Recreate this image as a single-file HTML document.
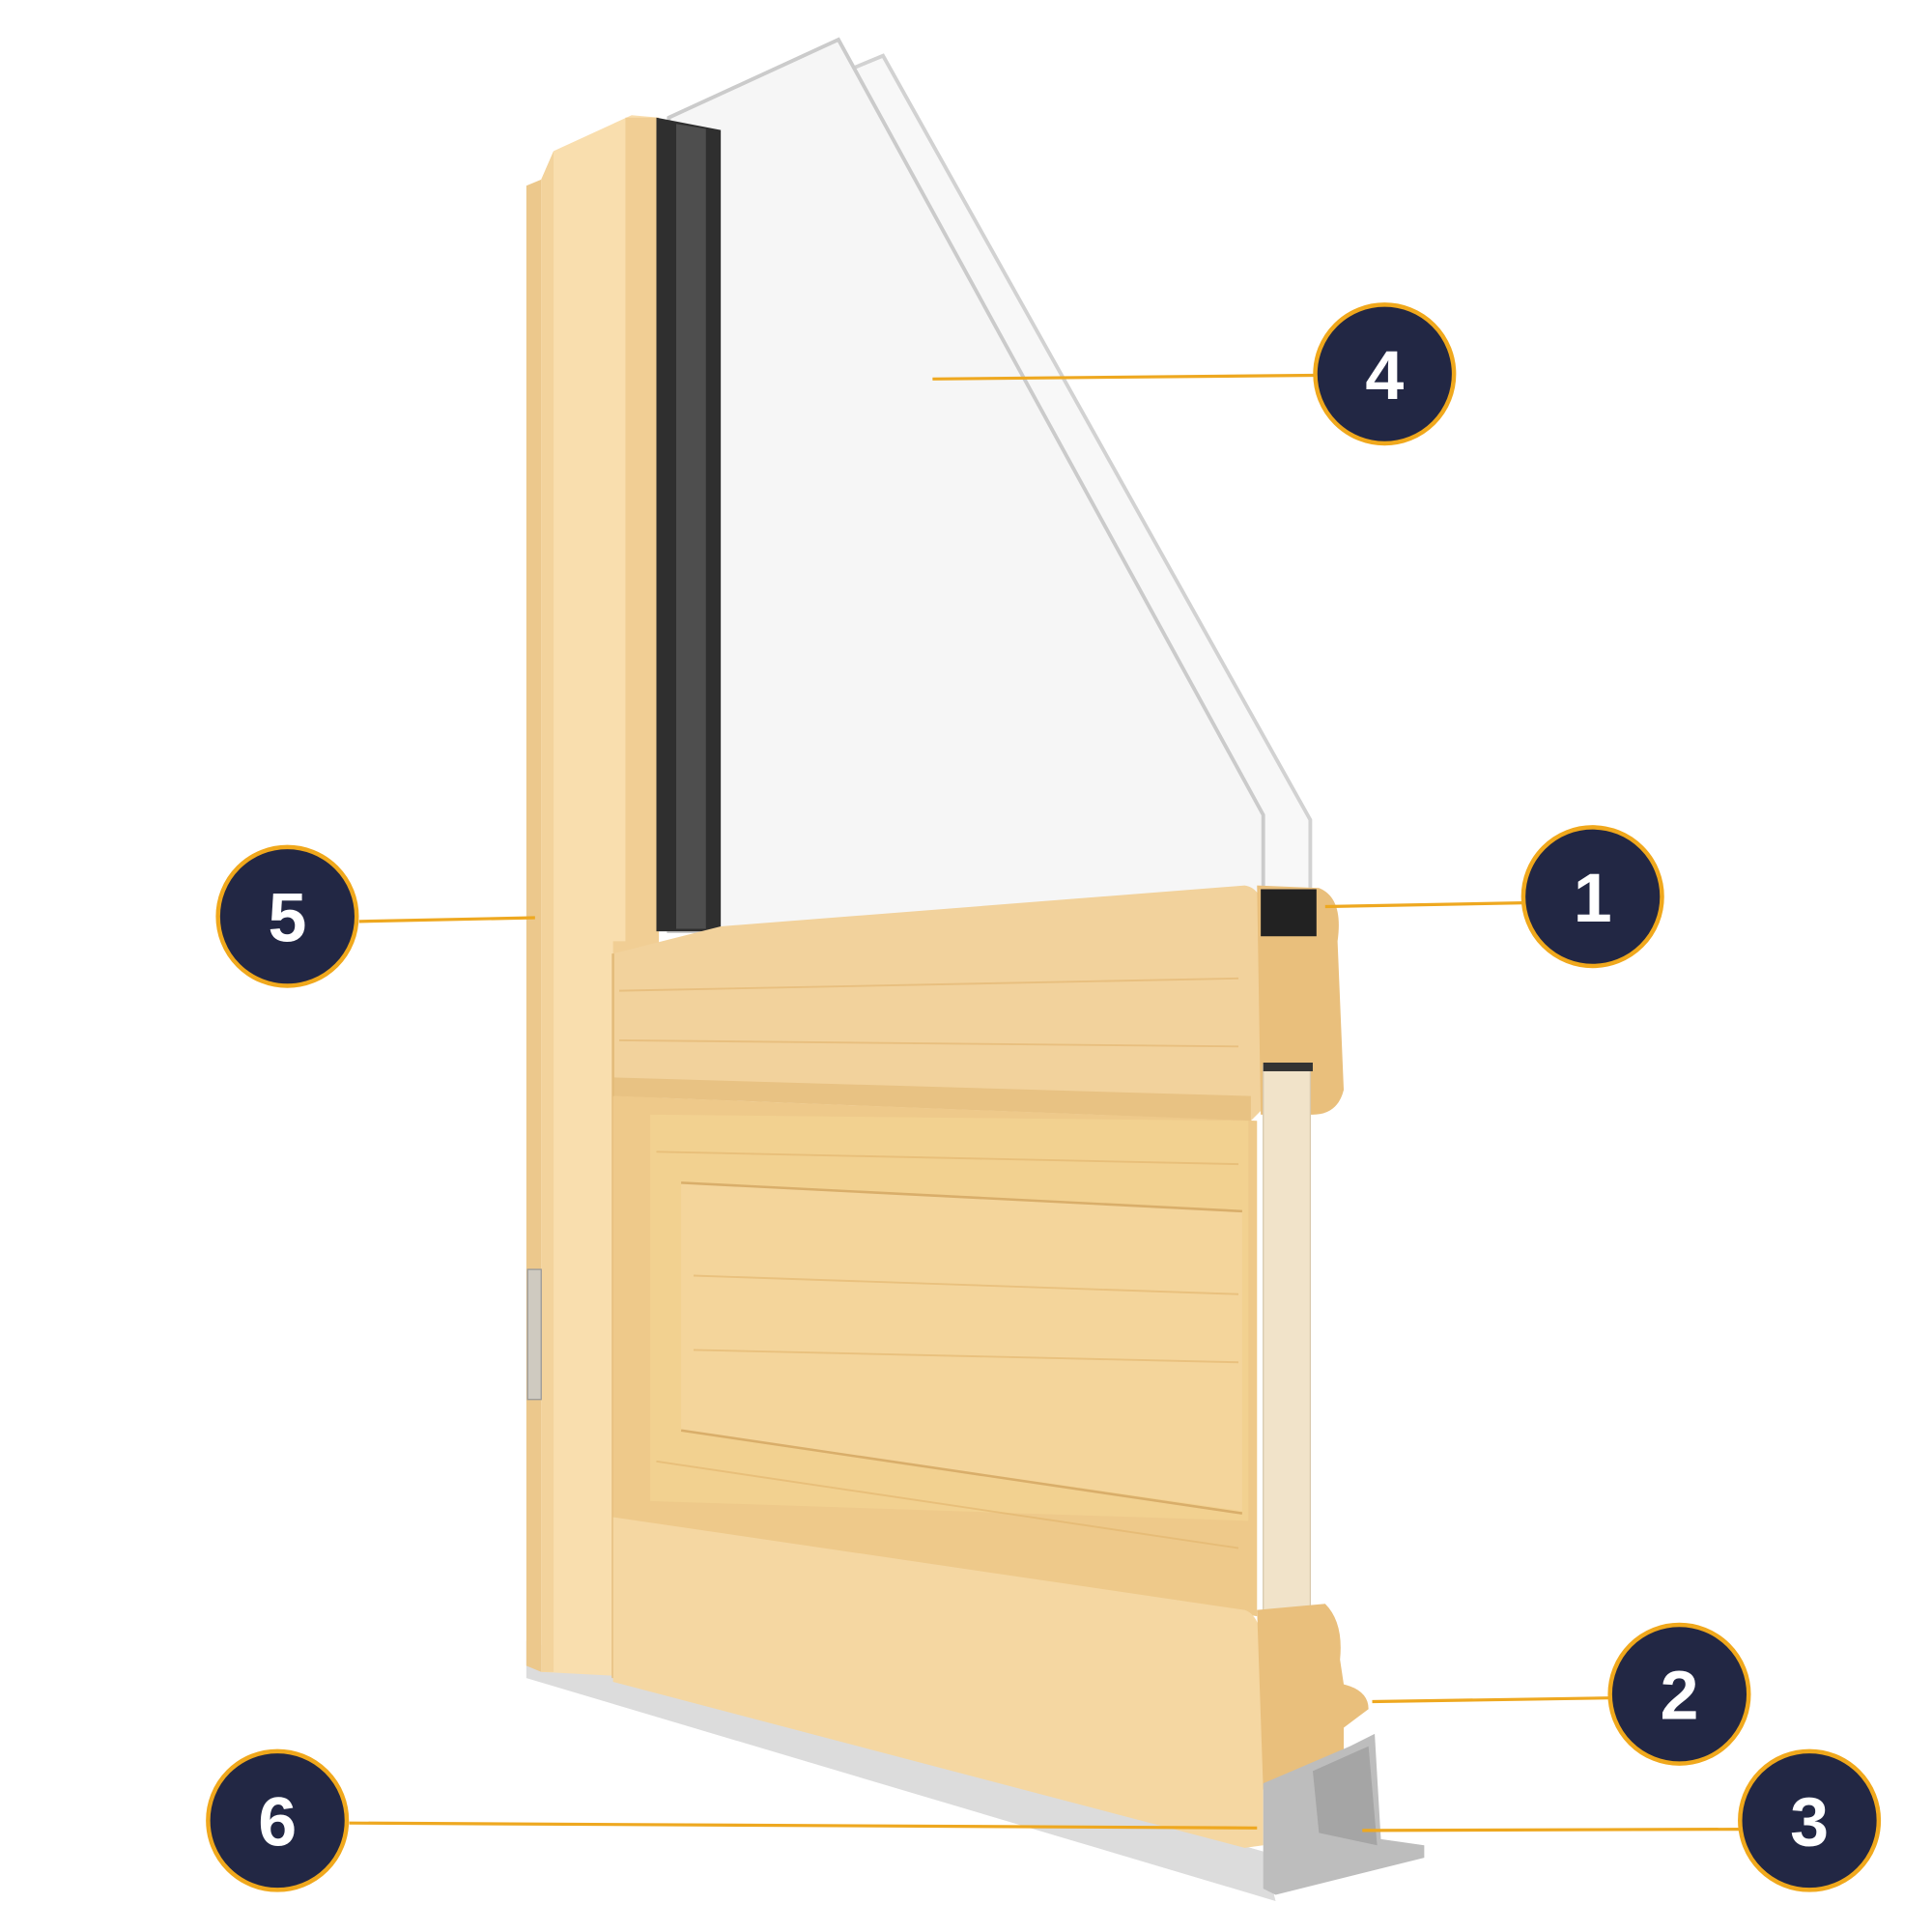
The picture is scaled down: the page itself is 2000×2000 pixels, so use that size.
<!DOCTYPE html>
<html><head><meta charset="utf-8"><style>
html,body{margin:0;padding:0;background:#fff;}
svg{display:block;}
text{font-family:"Liberation Sans",sans-serif;font-weight:bold;fill:#fff;}
</style></head><body>
<svg width="2000" height="2000" viewBox="0 0 1560 1560" xmlns="http://www.w3.org/2000/svg">
<polygon points="425,1325 1020,1495 1030,1535 425,1355" fill="#dcdcdc"/>
<polygon points="580,100 713,45 1058,662 1058,722 580,752" fill="#f8f8f8" stroke="#d2d2d2" stroke-width="3"/>
<polygon points="540,95 677,32 1020,658 1020,722 580,752 540,752" fill="#f6f6f6" stroke="#cbcbcb" stroke-width="3"/>
<polygon points="425,150 437,145 437,1350 425,1345" fill="#ecc88c"/>
<polygon points="437,145 447,122 510,93 532,95 532,1355 437,1350" fill="#f9deae"/>
<polygon points="505,95 532,95 532,1355 495,1355 495,760 505,760" fill="#f1ce94"/>
<polygon points="437,145 447,122 447,1350 437,1350" fill="#f3d39c"/>
<polygon points="530,95 582,105 582,752 530,752" fill="#2f2f2f"/>
<polygon points="546,100 570,104 570,750 546,750" fill="#4e4e4e"/>
<path d="M495,770 L582,748 L1005,715 Q1025,718 1020,760 L1020,895 L1010,905 L495,885 Z" fill="#f2d29c"/>
<path d="M495,870 L1010,885 L1010,905 L495,885 Z" fill="#e8c283"/>
<line x1="495" y1="770" x2="495" y2="1355" stroke="#e3bb7a" stroke-width="2"/>
<polygon points="495,885 1015,905 1015,1305 495,1225" fill="#eec98a"/>
<polygon points="525,900 1008,905 1008,1228 525,1212" fill="#f2d190"/>
<polygon points="550,955 1003,978 1003,1220 550,1155" fill="#f4d59b"/>
<line x1="550" y1="955" x2="1003" y2="978" stroke="#d9ae6a" stroke-width="2"/>
<line x1="550" y1="1155" x2="1003" y2="1222" stroke="#d9ae6a" stroke-width="2"/>
<g stroke="#e2b46c" stroke-width="1.5" opacity="0.6">
<line x1="530" y1="930" x2="1000" y2="940"/><line x1="560" y1="1030" x2="1000" y2="1045"/>
<line x1="560" y1="1090" x2="1000" y2="1100"/><line x1="530" y1="1180" x2="1000" y2="1250"/>
<line x1="500" y1="800" x2="1000" y2="790"/><line x1="500" y1="840" x2="1000" y2="845"/>
</g>
<path d="M495,1225 L1005,1300 Q1020,1305 1020,1340 L1020,1490 L1005,1492 L495,1358 Z" fill="#f5d7a2"/>
<path d="M1015,715 L1065,717 Q1085,725 1080,760 L1085,880 Q1080,900 1060,900 L1018,900 Z" fill="#e9bf7c"/>
<rect x="1020" y="860" width="38" height="475" fill="#f1e3c9" stroke="#d9c9ad"/>
<rect x="1020" y="858" width="40" height="7" fill="#333"/>
<rect x="1020" y="1330" width="40" height="7" fill="#333"/>
<rect x="1018" y="718" width="45" height="38" fill="#222"/>
<path d="M1015,1300 L1070,1295 Q1085,1310 1082,1340 L1085,1360 Q1105,1365 1105,1380 L1085,1395 L1085,1440 L1020,1445 Z" fill="#e9bf7c"/>
<polygon points="1020,1440 1090,1410 1110,1400 1115,1485 1150,1490 1150,1500 1110,1510 1030,1530 1020,1525" fill="#bdbdbd"/>
<polygon points="1060,1430 1105,1410 1112,1490 1065,1480" fill="#a5a5a5"/>
<rect x="426" y="1025" width="11" height="105" fill="#cfcac0" stroke="#999" stroke-width="1"/>
<g stroke="#eea820" stroke-width="2.5" fill="none">
<line x1="753" y1="306" x2="1062" y2="303"/>
<line x1="1070" y1="732" x2="1230" y2="729"/>
<line x1="290" y1="744" x2="432" y2="741"/>
<line x1="1108" y1="1374" x2="1300" y2="1371"/>
<line x1="1100" y1="1478" x2="1405" y2="1477"/>
<line x1="282" y1="1472" x2="1015" y2="1476"/>
</g>
<g fill="#222744" stroke="#f0a81c" stroke-width="3.5">
<circle cx="1118" cy="302" r="56"/>
<circle cx="1286" cy="724" r="56"/>
<circle cx="232" cy="740" r="56"/>
<circle cx="1356" cy="1368" r="56"/>
<circle cx="1461" cy="1470" r="56"/>
<circle cx="224" cy="1470" r="56"/>
</g>
<g font-size="56" text-anchor="middle">
<text x="1118" y="322">4</text>
<text x="1286" y="744">1</text>
<text x="232" y="760">5</text>
<text x="1356" y="1388">2</text>
<text x="1461" y="1490">3</text>
<text x="224" y="1490">6</text>
</g>
</svg>
</body></html>
